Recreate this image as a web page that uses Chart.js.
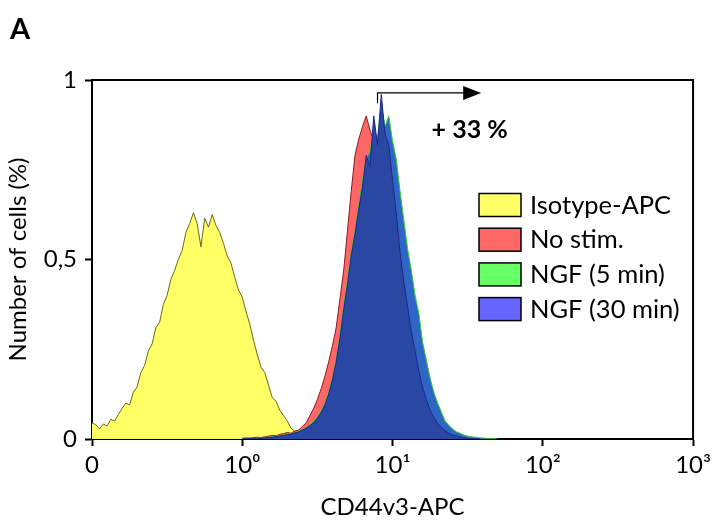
<!DOCTYPE html>
<html>
<head>
<meta charset="utf-8">
<script src="https://cdn.jsdelivr.net/npm/chart.js@4"></script>
<style>
  html, body { margin: 0; padding: 0; background: #fff; }
  #wrap { position: relative; width: 716px; height: 527px; }
</style>
</head>
<body>
<div id="wrap"><canvas id="histo" width="716" height="527"></canvas></div>
<script>
// Bin width on the x axis (in decades; 0 = "0", 1 = 10^0, ...)
const binStep = 0.025;

// Tick labels
const xTickLabels = ['0', '10\u2070', '10\u00B9', '10\u00B2', '10\u00B3'];
const yTickLabels = { 0: '0', 0.5: '0,5', 1: '1' };

// Series names
const seriesNames = ['Isotype-APC', 'No stim.', 'NGF (5 min)', 'NGF (30 min)'];

// Isotype-APC, starts at x = 0
const isoStart = 0;
const isoCounts = [
  0.045, 0.040, 0.028, 0.042, 0.036, 0.055, 0.050, 0.068, 0.085, 0.100,
  0.095, 0.130, 0.145, 0.185, 0.205, 0.245, 0.265, 0.310, 0.325, 0.375,
  0.400, 0.445, 0.470, 0.500, 0.525, 0.575, 0.600, 0.630, 0.600, 0.535,
  0.615, 0.590, 0.625, 0.595, 0.575, 0.545, 0.510, 0.490, 0.450, 0.415,
  0.395, 0.355, 0.320, 0.275, 0.235, 0.200, 0.185, 0.150, 0.115, 0.105,
  0.080, 0.065, 0.050, 0.030, 0.022, 0.012, 0.008, 0.005, 0.003, 0.001, 0
];

// No stim., starts at x = 1.0
const noStimStart = 1.0;
const noStimCounts = [
  0.002, 0.003, 0.002, 0.004, 0.005, 0.004, 0.006, 0.008, 0.010, 0.009,
  0.013, 0.015, 0.018, 0.016, 0.022, 0.025, 0.035, 0.045, 0.065, 0.085,
  0.110, 0.140, 0.175, 0.215, 0.260, 0.310, 0.390, 0.470, 0.580, 0.690,
  0.790, 0.835, 0.870, 0.900, 0.860, 0.830, 0.800, 0.750, 0.680, 0.600,
  0.520, 0.440, 0.370, 0.300, 0.240, 0.190, 0.140, 0.100, 0.070, 0.050,
  0.035, 0.022, 0.014, 0.008, 0.005, 0.003, 0.002, 0.001, 0
];

// NGF (5 min), starts at x = 1.0
const ngf5Start = 1.0;
const ngf5Counts = [
  0.001, 0.002, 0.001, 0.002, 0.003, 0.003, 0.004, 0.005, 0.006, 0.008,
  0.009, 0.011, 0.013, 0.015, 0.018, 0.022, 0.026, 0.032, 0.040, 0.048,
  0.062, 0.078, 0.100, 0.130, 0.170, 0.220, 0.290, 0.370, 0.440, 0.520,
  0.580, 0.650, 0.720, 0.780, 0.800, 0.860, 0.840, 0.930, 0.870, 0.900,
  0.830, 0.780, 0.690, 0.610, 0.530, 0.470, 0.400, 0.350, 0.270, 0.220,
  0.170, 0.130, 0.100, 0.075, 0.050, 0.038, 0.028, 0.020, 0.016, 0.011,
  0.008, 0.006, 0.005, 0.004, 0.003, 0.002, 0.001, 0.001, 0
];

// NGF (30 min), starts at x = 1.0
const ngf30Start = 1.0;
const ngf30Counts = [
  0.001, 0.001, 0.002, 0.002, 0.002, 0.003, 0.003, 0.004, 0.005, 0.007,
  0.008, 0.010, 0.012, 0.014, 0.017, 0.020, 0.025, 0.030, 0.037, 0.045,
  0.058, 0.074, 0.095, 0.125, 0.165, 0.215, 0.280, 0.360, 0.430, 0.510,
  0.570, 0.640, 0.700, 0.790, 0.760, 0.900, 0.820, 0.960, 0.850, 0.820,
  0.720, 0.630, 0.520, 0.440, 0.370, 0.300, 0.245, 0.190, 0.145, 0.110,
  0.080, 0.060, 0.044, 0.032, 0.023, 0.016, 0.011, 0.008, 0.005, 0.003,
  0.002, 0.001, 0.001, 0
];

// Annotation: shift arrow (data units)
const shiftArrow = { x0: 1.90, x1: 2.59, y: 0.964, yFoot: 0.935 };
const shiftText = { x: 2.26, y: 0.862, label: '+ 33 %' };

const FONT = "Lato, 'Open Sans', 'DejaVu Sans', sans-serif";

function toPoints(start, counts) {
  return counts.map((v, i) => ({ x: start + i * binStep, y: v }));
}

const legendColors = ['#ffff66', '#ff6666', '#66ff66', '#6666ff'];

// Draws frame, legend, arrow and label
const extras = {
  id: 'extras',
  afterDatasetsDraw(chart) {
    const { ctx, chartArea: a, scales: { x, y } } = chart;
    ctx.save();
    // top and right frame
    ctx.strokeStyle = '#000';
    ctx.lineWidth = 2;
    ctx.beginPath();
    ctx.moveTo(a.left, a.top);
    ctx.lineTo(a.right, a.top);
    ctx.lineTo(a.right, a.bottom);
    ctx.stroke();

    // arrow
    const ax0 = x.getPixelForValue(shiftArrow.x0);
    const ax1 = x.getPixelForValue(shiftArrow.x1);
    const ay = y.getPixelForValue(shiftArrow.y);
    const ayf = y.getPixelForValue(shiftArrow.yFoot);
    ctx.lineWidth = 1.2;
    ctx.beginPath();
    ctx.moveTo(ax0, ayf);
    ctx.lineTo(ax0, ay);
    ctx.lineTo(ax1 - 16, ay);
    ctx.stroke();
    ctx.fillStyle = '#000';
    ctx.beginPath();
    ctx.moveTo(ax1, ay);
    ctx.lineTo(ax1 - 18, ay - 7);
    ctx.lineTo(ax1 - 18, ay + 7);
    ctx.closePath();
    ctx.fill();

    // + 33 %
    ctx.font = "bold 25px " + FONT;
    ctx.textBaseline = 'middle';
    ctx.textAlign = 'left';
    ctx.fillText(shiftText.label, x.getPixelForValue(shiftText.x), y.getPixelForValue(shiftText.y));

    // legend
    const lx = 479, ly = 193.5, rowH = 34.7;
    ctx.font = "25.5px " + FONT;
    seriesNames.forEach((name, i) => {
      const top = ly + i * rowH;
      ctx.fillStyle = legendColors[i];
      ctx.fillRect(lx, top, 42, 23);
      ctx.lineWidth = 1.5;
      ctx.strokeStyle = '#000';
      ctx.strokeRect(lx, top, 42, 23);
      ctx.fillStyle = '#000';
      ctx.fillText(name, lx + 51, top + 12);
    });

    // panel letter
    ctx.font = "bold 29px " + FONT;
    ctx.textBaseline = 'alphabetic';
    ctx.fillText('A', 10, 39);
    ctx.restore();
  }
};

const ctx = document.getElementById('histo').getContext('2d');
new Chart(ctx, {
  type: 'line',
  data: {
    datasets: [
      {
        label: seriesNames[0],
        data: toPoints(isoStart, isoCounts),
        borderColor: '#6b6b10',
        backgroundColor: '#ffff66',
        order: 4
      },
      {
        label: seriesNames[1],
        data: toPoints(noStimStart, noStimCounts),
        borderColor: '#8b1a1a',
        backgroundColor: '#ff6666',
        order: 3
      },
      {
        label: seriesNames[2],
        data: toPoints(ngf5Start, ngf5Counts),
        borderColor: '#2fcf2f',
        backgroundColor: '#2f66c6',
        order: 2
      },
      {
        label: seriesNames[3],
        data: toPoints(ngf30Start, ngf30Counts),
        borderColor: '#1b2a8a',
        backgroundColor: '#2a47a3',
        order: 1
      }
    ]
  },
  options: {
    responsive: false,
    animation: false,
    elements: {
      point: { radius: 0 },
      line: { borderWidth: 1, tension: 0, fill: 'origin' }
    },
    layout: { padding: { top: 80, right: 20, left: 0, bottom: 0 } },
    plugins: {
      legend: { display: false },
      tooltip: { enabled: false }
    },
    scales: {
      x: {
        type: 'linear',
        min: 0,
        max: 4,
        afterFit: (s) => { s.height = 88; },
        ticks: {
          stepSize: 1,
          color: '#000',
          padding: 5,
          font: { family: FONT, size: 24 },
          callback: (v) => xTickLabels[v]
        },
        grid: { drawOnChartArea: false, tickLength: 7, color: '#000', tickWidth: 2 },
        border: { color: '#000', width: 2 },
        title: {
          display: true,
          text: 'CD44v3-APC',
          color: '#000',
          font: { family: FONT, size: 24 },
          padding: { top: 0, bottom: 5 }
        }
      },
      y: {
        min: 0,
        max: 1,
        afterFit: (s) => { s.width = 92; },
        ticks: {
          stepSize: 0.5,
          color: '#000',
          padding: 8,
          font: { family: FONT, size: 24 },
          callback: (v) => yTickLabels[v]
        },
        grid: { drawOnChartArea: false, tickLength: 7, color: '#000', tickWidth: 2 },
        border: { color: '#000', width: 2 },
        title: {
          display: true,
          text: 'Number of cells (%)',
          color: '#000',
          font: { family: FONT, size: 24 },
          padding: { top: 4, bottom: 0 }
        }
      }
    }
  },
  plugins: [extras]
});
</script>
</body>
</html>
